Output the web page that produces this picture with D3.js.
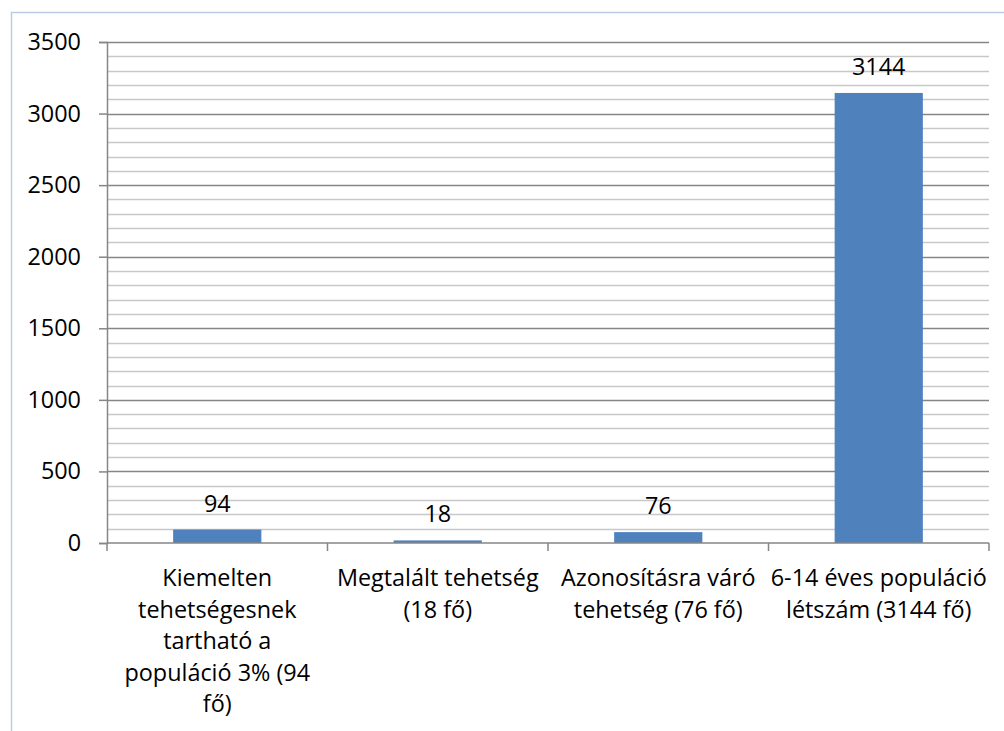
<!DOCTYPE html>
<html><head><meta charset="utf-8">
<script src="https://cdn.jsdelivr.net/npm/d3@7"></script>
<style>
html,body{margin:0;padding:0;background:#fff;}
svg{display:block;}
text{font-family:"Open Sans",Lato,sans-serif;fill:#000;}
</style></head>
<body>
<svg id="c" width="1004" height="731"></svg>
<script>
const categories = [
  ["Kiemelten","tehetségesnek","tartható a","populáció 3% (94","fő)"],
  ["Megtalált tehetség","(18 fő)"],
  ["Azonosításra váró","tehetség (76 fő)"],
  ["6-14 éves populáció","létszám (3144 fő)"]
];
const values = [94, 18, 76, 3144];
const yTicks = [0, 500, 1000, 1500, 2000, 2500, 3000, 3500];
const minorTicks = d3.range(0, 3501, 100);

(function(){
const svg = d3.select("#c");
const pL = 107, pR = 989, pT = 42, pB = 543;
const fs = 23.4;
const ff = "'Open Sans',Lato,sans-serif";

// chart border
svg.append("rect").attr("x",11.5).attr("y",12.5).attr("width",1010).attr("height",740)
  .attr("fill","none").attr("stroke","#B9CDE5").attr("stroke-width",1.5);

const x = d3.scaleBand().domain(d3.range(categories.length)).range([pL, pR]).paddingInner(0).paddingOuter(0);
const y = d3.scaleLinear().domain([0, 3500]).range([pB, pT]);

// minor gridlines
svg.append("g").selectAll("line").data(minorTicks.filter(d => d % 500 !== 0)).join("line")
  .attr("x1", pL).attr("x2", pR)
  .attr("y1", d => Math.round(y(d)) + 0.5).attr("y2", d => Math.round(y(d)) + 0.5)
  .attr("stroke", "#C8C8C8").attr("stroke-width", 1.5);

// major gridlines
svg.append("g").selectAll("line").data(yTicks.filter(d => d > 0)).join("line")
  .attr("x1", pL).attr("x2", pR)
  .attr("y1", d => Math.round(y(d)) + 0.5).attr("y2", d => Math.round(y(d)) + 0.5)
  .attr("stroke", "#868686").attr("stroke-width", 1.5);

// bars
const bw = x.bandwidth() * 0.4;
svg.append("g").selectAll("rect").data(values).join("rect")
  .attr("x", (d,i) => x(i) + (x.bandwidth() - bw) / 2)
  .attr("width", bw)
  .attr("y", d => y(d))
  .attr("height", d => y(0) - y(d))
  .attr("fill", "#4F81BD");

// data labels
svg.append("g").selectAll("text").data(values).join("text")
  .attr("x", (d,i) => x(i) + x.bandwidth()/2)
  .attr("y", d => y(d) - 18)
  .attr("text-anchor", "middle")
  .attr("font-size", fs)
  .text(d => d);

// y axis
const yAxis = d3.axisLeft(y).tickValues(yTicks).tickSize(8).tickPadding(18).tickFormat(d3.format("d"));
const gy = svg.append("g").attr("transform", `translate(${pL},0)`).call(yAxis);
gy.select(".domain").attr("stroke", "#868686").attr("stroke-width", 1.5);
gy.selectAll(".tick line").attr("stroke", "#868686").attr("stroke-width", 1.5);
gy.selectAll(".tick text").attr("font-size", fs).attr("font-family", ff).attr("fill", "#000");

// x axis line and ticks
svg.append("line").attr("x1", pL).attr("x2", pR).attr("y1", pB).attr("y2", pB)
  .attr("stroke", "#868686").attr("stroke-width", 1.5);
const bounds = d3.range(categories.length + 1).map(i => pL + i * x.step());
svg.append("g").selectAll("line").data(bounds).join("line")
  .attr("x1", d => d).attr("x2", d => d).attr("y1", pB).attr("y2", pB + 8)
  .attr("stroke", "#868686").attr("stroke-width", 1.5);

// category labels
const lab = svg.append("g").selectAll("text").data(categories).join("text")
  .attr("text-anchor", "middle").attr("font-size", fs)
  .attr("transform", (d,i) => `translate(${x(i) + x.bandwidth()/2},586)`);
lab.selectAll("tspan").data(d => d).join("tspan")
  .attr("x", 0).attr("y", (d,j) => j * 31.5).text(d => d);
})();
</script>
</body></html>
